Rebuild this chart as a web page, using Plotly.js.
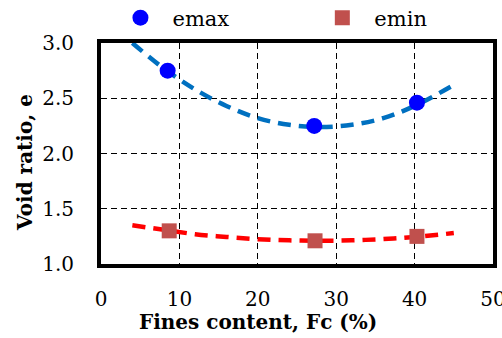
<!DOCTYPE html>
<html>
<head>
<meta charset="utf-8">
<script src="https://cdn.plot.ly/plotly-3.0.1.min.js"></script>
<style>html,body{margin:0;padding:0;background:#fff;}#chart{width:502px;height:338px;}</style>
</head>
<body>
<div id="chart"></div>
<script>
// Measured points
const fcMax = [8.5, 27.2, 40.3];
const eMax = [2.75, 2.25, 2.46];
const fcMin = [8.7, 27.3, 40.3];
const eMin = [1.30, 1.21, 1.25];
// Trend curves
const fitX = [4, 8, 12, 16, 20, 24, 28, 32, 36, 40, 45];
const fitMax = [3.00, 2.77, 2.58, 2.43, 2.32, 2.26, 2.24, 2.26, 2.32, 2.43, 2.62];
const fitMin = [1.35, 1.31, 1.27, 1.245, 1.225, 1.214, 1.21, 1.214, 1.226, 1.245, 1.28];
const xTicks = [0, 10, 20, 30, 40, 50];
const yTicks = [1.0, 1.5, 2.0, 2.5, 3.0];
const xTitle = 'Fines content, Fc (%)';
const yTitle = 'Void ratio, e';

const font = 'DejaVu Serif, serif';

const traces = [
  {x: fitX, y: fitMax, mode: 'lines', line: {color: '#0070C0', width: 4.5, dash: '13px,8px', shape: 'spline'}, showlegend: false, hoverinfo: 'skip'},
  {x: fitX, y: fitMin, mode: 'lines', line: {color: '#FF0000', width: 4.5, dash: '13px,8px', shape: 'spline'}, showlegend: false, hoverinfo: 'skip'},
  {x: fcMax, y: eMax, mode: 'markers', name: 'emax', legend: 'legend', marker: {symbol: 'circle', size: 16, color: '#0000FF'}},
  {x: fcMin, y: eMin, mode: 'markers', name: 'emin', legend: 'legend2', marker: {symbol: 'square', size: 15, color: '#C0504D'}}
];

const legendBase = {orientation: 'h', y: 1.113, yanchor: 'middle', xanchor: 'left', font: {size: 21}, bgcolor: 'rgba(0,0,0,0)', itemwidth: 54};

const layout = {
  width: 502, height: 338,
  margin: {l: 101, r: 9, t: 43, b: 74, autoexpand: false},
  paper_bgcolor: '#fff', plot_bgcolor: '#fff',
  font: {family: font, size: 20, color: '#000'},
  showlegend: true,
  legend: Object.assign({}, legendBase, {x: 0.019}),
  legend2: Object.assign({}, legendBase, {x: 0.534}),
  xaxis: {
    range: [0, 50], tickvals: xTicks, ticktext: xTicks.map(String),
    showgrid: true, gridcolor: '#000', griddash: '6px,4px', gridwidth: 1,
    showline: true, linecolor: '#000', linewidth: 4, mirror: true,
    ticks: '', ticklabelstandoff: 14, zeroline: false, automargin: false,
    ticklabeloverflow: 'allow'
  },
  yaxis: {
    range: [1, 3], tickvals: yTicks, ticktext: yTicks.map(v => v.toFixed(1)),
    showgrid: true, gridcolor: '#000', griddash: '6px,4px', gridwidth: 1,
    showline: true, linecolor: '#000', linewidth: 4, mirror: true,
    ticks: '', ticklabelstandoff: 19, zeroline: false, automargin: false
  },
  annotations: [
    {text: '<b>' + xTitle + '</b>', xref: 'paper', yref: 'paper', x: 0.4, y: -0.262, xanchor: 'center', yanchor: 'middle', showarrow: false, font: {size: 20}},
    {text: '<b>' + yTitle + '</b>', xref: 'paper', yref: 'paper', x: -0.194, y: 0.4615, xanchor: 'center', yanchor: 'middle', textangle: -90, showarrow: false, font: {size: 20}}
  ]
};

Plotly.newPlot('chart', traces, layout, {displayModeBar: false, staticPlot: true});
</script>
</body>
</html>
